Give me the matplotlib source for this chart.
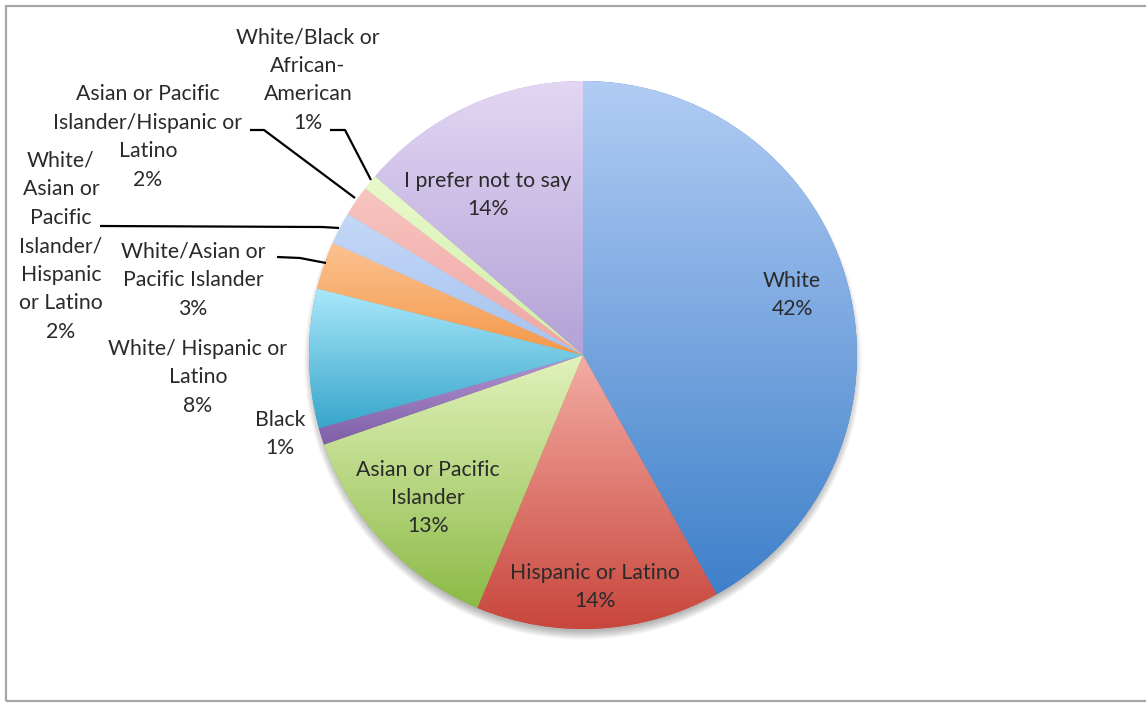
import numpy as np
import matplotlib
matplotlib.use("Agg")
import matplotlib.pyplot as plt
from matplotlib.colors import LinearSegmentedColormap
from matplotlib.patches import Circle, Rectangle

plt.rcParams['font.family'] = ['Lato', 'DejaVu Sans']

# ---- data ----
categories = ["White", "Hispanic or Latino", "Asian or Pacific\nIslander", "Black",
              "White/ Hispanic or\nLatino", "White/Asian or\nPacific Islander",
              "White/\nAsian or\nPacific\nIslander/\nHispanic\nor Latino",
              "Asian or Pacific\nIslander/Hispanic or\nLatino",
              "White/Black or\nAfrican-\nAmerican", "I prefer not to say"]
values = [41.9, 14.4, 13.4, 1.0, 8.2, 2.8, 1.9, 1.8, 0.9, 13.7]
top_colors = ['#b2ccf4', '#f4aca4', '#e2f2bc', '#b494d2', '#aae8fb',
              '#fcc290', '#c4d8f7', '#f8c4c0', '#e8f9cc', '#e2d6f3']
bottom_colors = ['#3e80ca', '#c8463c', '#8cba46', '#7e5ea6', '#38a6ca',
                 '#f4984a', '#a6c2ef', '#efa6a2', '#d2eea6', '#b2a2d6']

# ---- layout (pixels) ----
W, H = 1146, 703
cx, cy, R = 583, 355, 274

def px(x, y):
    return ((x - cx) / R, (cy - y) / R)

fig = plt.figure(figsize=(W / 100, H / 100), dpi=100)
ax = fig.add_axes([0, 0, 1, 1])
ax.axis('off')

# frame
fig.patches.append(Rectangle((6 / W, 2 / H), 1.2, (701 - 6) / H, transform=fig.transFigure,
                             fill=False, edgecolor='#a6a6a6', linewidth=1.6, zorder=0))

# shadow (mostly below the pie)
for i in range(10):
    ax.add_patch(Circle((0, -0.022), 0.985 + 0.0035 * i, facecolor='black',
                        edgecolor='none', alpha=0.03, zorder=1))

wedges, _ = ax.pie(values, startangle=90, counterclock=False, radius=1,
                   center=(0, 0), colors=bottom_colors,
                   wedgeprops=dict(linewidth=0))

for w, ct, cb in zip(wedges, top_colors, bottom_colors):
    w.set_zorder(2)
    t = np.radians(np.linspace(w.theta1, w.theta2, 200))
    xs = np.concatenate([[0], np.cos(t)])
    ys = np.concatenate([[0], np.sin(t)])
    cmap = LinearSegmentedColormap.from_list('g', [cb, ct])
    grad = np.linspace(1, 0, 256).reshape(-1, 1)
    im = ax.imshow(grad, cmap=cmap, extent=[xs.min(), xs.max(), ys.min(), ys.max()],
                   aspect='auto', zorder=3, interpolation='bilinear')
    im.set_clip_path(w)

ax.set_aspect('auto')
ax.set_xlim(-cx / R, (W - cx) / R)
ax.set_ylim(-(H - cy) / R, cy / R)

pcts = [f"{round(v):d}%" for v in values]
label_pos = [(792, 295), (595, 587), (428, 498), (280, 434), (198, 377),
             (193, 280), (61, 246), (148, 137), (308, 80), (488, 195)]
fs = 15.3
pitch = 28.5
for name, p, (lx, ly) in zip(categories, pcts, label_pos):
    lines = f"{name}\n{p}".split("\n")
    n = len(lines)
    for i, line in enumerate(lines):
        x, y = px(lx, ly + (i - (n - 1) / 2) * pitch)
        ax.text(x, y, line, ha='center', va='center', fontsize=fs,
                color='#2a2a2a', zorder=5)

# leader lines
leaders = [
    [(330, 130), (345, 130), (371, 180)],
    [(250, 130), (264, 130), (355, 198)],
    [(100, 226), (322, 227), (339, 228)],
    [(277, 257), (300, 258), (326, 263)],
]
for pts in leaders:
    xy = np.array([px(a, b) for a, b in pts])
    ax.plot(xy[:, 0], xy[:, 1], color='black', linewidth=1.6, zorder=4,
            solid_capstyle='butt')

fig.savefig('out.png', dpi=100)
